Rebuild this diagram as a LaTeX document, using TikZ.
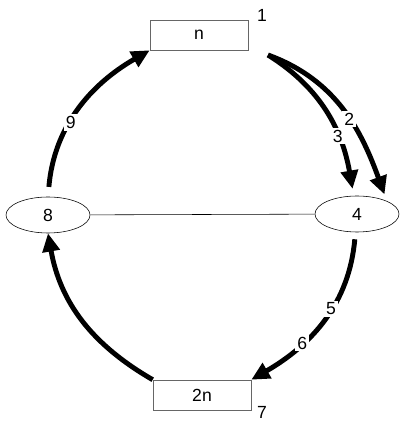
\documentclass[tikz,border=0pt]{standalone}
\usepackage{fontspec}
\setmainfont{Liberation Sans}
\usetikzlibrary{arrows.meta,shapes.geometric}
\tikzset{
  box/.style={draw=black!60, thin, minimum width=2.45cm, minimum height=0.75cm, inner sep=0pt},
  oval/.style={draw, thin, ellipse, minimum width=2.1cm, minimum height=0.9cm, inner sep=0pt},
  flow/.style={line width=3.5pt, -{Triangle[length=13pt,width=12pt]}},
  tag/.style={fill=white, inner sep=1.5pt},
}
\begin{document}
\begin{tikzpicture}[x=0.025cm,y=0.025cm,font=\fontsize{12.5}{14}\selectfont]
	\useasboundingbox (0,0) rectangle (402,421);
	\node[box] (top) at (199,386) {n};
	\node (one) at (262,406) {1};
	\node[oval] (four) at (357,207) {4};
	\node[oval] (eight) at (48,206) {8};
	\node[box] (bot) at (202,26) {2n};
	\node (seven) at (262,9) {7};
	\coordinate (split) at (268,366);

	\draw[thin] (eight) -- (four);
	\draw[flow, shorten <=7pt] (eight.north) to[out=85,in=210] node[tag,pos=0.42]{9} (top.south west);
	\draw[flow, shorten >=5pt] (split) to[out=-20,in=110] node[tag,pos=0.55]{2} (four.north east);
	\draw[flow, shorten >=5pt] (split) to[out=-32,in=100] node[tag,pos=0.65]{3} (four.100);
	\draw[flow, shorten <=5pt] (four.265) to[out=-95,in=30] node[tag,pos=0.43]{5} node[tag,pos=0.68]{6} (bot.north east);
	\draw[flow] (bot.north west) to[out=150,in=-80] (eight.south);
\end{tikzpicture}
\end{document}
